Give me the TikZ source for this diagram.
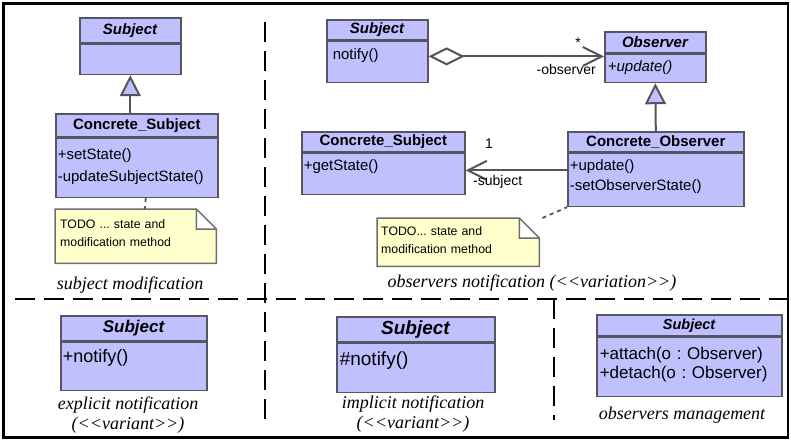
\documentclass[tikz,border=0pt]{standalone}
\usepackage{fontspec}
\setmainfont{Liberation Serif}
\newfontfamily\umlfont{Liberation Sans}
\usetikzlibrary{arrows.meta,positioning,backgrounds}
\definecolor{umlfill}{RGB}{192,192,255}
\definecolor{umlline}{RGB}{85,85,100}
\definecolor{notefill}{RGB}{255,255,204}
\definecolor{noteline}{RGB}{110,110,110}
\definecolor{linkgray}{RGB}{85,85,85}
\newcommand\umlsize[2]{\fontsize{#1}{#2}\selectfont}
\newcommand\stereo[1]{(<\kern0pt<#1>\kern0pt>)}
\frenchspacing

\begin{document}
\begin{tikzpicture}[x=1pt,y=-1pt,
  hd/.style={draw=umlline,fill=umlfill,line width=1.6pt,anchor=north west,inner sep=0pt,font=\umlfont\bfseries\umlsize{15}{18}},
  bd/.style={draw=umlline,fill=umlfill,line width=1.6pt,align=left,inner ysep=3pt,inner xsep=2pt,font=\umlfont\umlsize{15}{20}},
  note/.style={align=left,inner ysep=3pt,anchor=north west,font=\umlfont\umlsize{12.3}{18}},
  lbl/.style={align=center,font=\itshape\umlsize{18}{20}},
  role/.style={font=\umlfont\umlsize{14}{16},inner sep=0pt},
  inh/.style={draw=linkgray,line width=2pt,-{Triangle[length=21pt,width=21pt,fill=umlfill]}},
  assoc/.style={draw=linkgray,line width=2pt,-{Straight Barb[length=19pt,width=19pt]}},
  agg/.style={assoc,{Diamond[length=36pt,width=18pt,fill=white]}-{Straight Barb[length=19pt,width=19pt]}},
  notelink/.style={draw=linkgray,line width=1.8pt,dash pattern=on 4pt off 4pt},
  divider/.style={line width=2.8pt,dash pattern=on 20pt off 9pt}]
  \useasboundingbox (0,0) rectangle (791,441);
  \draw[line width=2.5pt] (3.5,3.5) rectangle (788,437.5);
  \draw[divider] (15,299) -- (789,299);
  \draw[divider] (265,22) -- (265,424);
  \draw[divider] (554,299) -- (554,420);

  % subject modification
  \node[hd,minimum width=101pt,minimum height=25pt] (subjA) at (79,17) {\textit{Subject}};
  \node[bd,below=0pt of subjA,text width=97pt,minimum height=30pt] (subjAB) {};
  \node[hd,minimum width=162pt,minimum height=23pt] (csA) at (55,113) {Concrete\_Subject};
  \node[bd,below=0pt of csA,text width=158pt,text height=18.5pt,text depth=34.5pt,font=\umlfont\umlsize{15}{22}] (csAB) {+setState()\\-updateSubjectState()};
  \draw[inh] (csA.north -| subjAB.south) -- (subjAB.south);
  \node[note,text width=151pt,inner xsep=5pt,text height=16pt,text depth=32pt] (noteA) at (55,209) {TODO ... state and\\modification method};
  \draw[notelink] ([xshift=9pt]csAB.south) -- ([xshift=9pt]noteA.north);
  \node[lbl] (modA) at (130,285) {subject modification};

  % observers notification
  \node[hd,minimum width=101pt,minimum height=20pt] (subjB) at (326,19) {\textit{Subject}};
  \node[bd,below=0pt of subjB,text width=89pt,inner xsep=6pt,text height=15.5pt,text depth=19.5pt] (subjBB) {notify()};
  \node[hd,minimum width=101pt,minimum height=21pt] (obs) at (604,31) {\textit{Observer}};
  \node[bd,below=0pt of obs,text width=95pt,inner xsep=3pt,text height=14.5pt,text depth=7.5pt] (obsB) {\textit{+update()}};
  \node[hd,minimum width=176pt,minimum height=20pt] (co) at (567,131) {Concrete\_Observer};
  \node[bd,below=0pt of co,text width=172pt,text height=14.5pt,text depth=32.5pt] (coB) {+update()\\-setObserverState()};
  \node[hd,minimum width=163pt,minimum height=20pt] (csB) at (301,131) {Concrete\_Subject};
  \node[bd,below=0pt of csB,text width=159pt,text height=14.5pt,text depth=20.5pt] (csBB) {+getState()};
  \coordinate (aggS) at ([yshift=5.5pt]subjBB.east);
  \draw[agg] (aggS) -- (aggS -| obsB.west);
  \draw[inh] (co.north) -- (obsB.south);
  \coordinate (ascS) at ([yshift=9.5pt]coB.west);
  \draw[assoc] (ascS) -- (ascS -| csBB.east);
  \node[role] (mult1) at (578,43) {*};
  \node[role,anchor=east] (role1) at (596,69) {-observer};
  \node[role] (mult2) at (489,144) {1};
  \node[role,anchor=west] (role2) at (473,182) {-subject};
  \node[note,text width=154pt,inner xsep=4pt,text height=14pt,text depth=28pt] (noteB) at (377,218) {TODO... state and\\modification method};
  \draw[notelink] ([xshift=3pt]noteB.north east) -- (coB.south west);
  \node[lbl] (modB) at (532,283) {observers notification \stereo{variation}};

  % notes
  \begin{scope}[on background layer]
    \foreach \n in {noteA,noteB}
      \draw[fill=notefill,draw=noteline,line width=1.5pt] (\n.north west) -- ([xshift=-20pt]\n.north east)
        -- ([yshift=-20pt]\n.north east) -- (\n.south east) -- (\n.south west) -- cycle
        ([xshift=-20pt]\n.north east) |- ([yshift=-20pt]\n.north east);
  \end{scope}

  % variants
  \node[hd,minimum width=146pt,minimum height=25pt,font=\umlfont\bfseries\umlsize{17}{20}] (subjC) at (60,315) {\textit{Subject}};
  \node[bd,below=0pt of subjC,text width=142pt,text height=17.5pt,text depth=24.5pt,font=\umlfont\umlsize{18}{20}] (subjCB) {+notify()};
  \node[lbl] (modC) at (128,415) {explicit notification\\\stereo{variant}};
  \node[hd,minimum width=158pt,minimum height=25pt,font=\umlfont\bfseries\umlsize{19}{22}] (subjD) at (336,316) {\textit{Subject}};
  \node[bd,below=0pt of subjD,text width=152pt,inner xsep=3pt,text height=19.5pt,text depth=23.5pt,font=\umlfont\umlsize{19}{22}] (subjDB) {\#notify()};
  \node[lbl] (modD) at (413,414) {implicit notification\\\stereo{variant}};
  \node[hd,minimum width=185pt,minimum height=21pt,font=\umlfont\bfseries\umlsize{14.5}{17}] (subjE) at (596,314) {\textit{Subject}};
  \node[bd,below=0pt of subjE,text width=179pt,inner xsep=3pt,text height=19pt,text depth=34pt,font=\umlfont\umlsize{17}{19}] (subjEB) {+attach(o : Observer)\\+detach(o : Observer)};
  \node[lbl] (modE) at (682,415) {observers management};
\end{tikzpicture}
\end{document}
